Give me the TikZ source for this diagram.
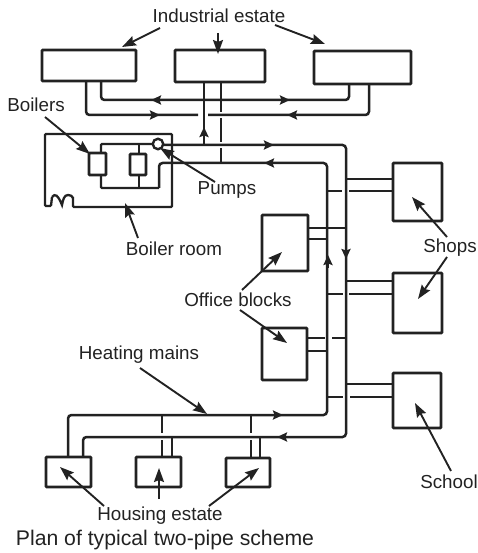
\documentclass[tikz,border=0pt]{standalone}
\usepackage{fontspec}
\setmainfont{Liberation Sans}
\usetikzlibrary{arrows.meta}
\definecolor{ink}{HTML}{222222}
\tikzset{
  box/.style={draw=ink,line width=2.7pt,fill=white,rounded corners=0.8pt,inner sep=0pt,outer sep=0pt,minimum width=#1},
  pipe/.style={draw=ink,line width=2.5pt,rounded corners=3.5pt},
  wall/.style={draw=ink,line width=2.3pt,rounded corners=1pt},
  flow/.style={draw=ink,line width=2.5pt,-{Stealth[length=10pt,width=9pt,inset=1.5pt]}},
  leader/.style={draw=ink,line width=1.9pt,-{Stealth[length=14pt,width=10pt,inset=2pt]}},
  label/.style={text=ink,font=\fontsize{18.8}{22}\selectfont,inner sep=0pt},
}
\newcommand{\boxat}[5]{\node[box=#4-#2,minimum height=#5-#3] (#1) at ({(#2+#4)/2},{(#3+#5)/2}) {};}
\begin{document}
\begin{tikzpicture}[x=1pt,y=-1pt]
\useasboundingbox (0,0) rectangle (477,553);
% pipes first
\draw[pipe] (86,81) -- (86,115) -- (198,115);
\draw[pipe] (208,115) -- (369,115) -- (369,84);
\draw[pipe] (101,81) -- (101,100) -- (349,100) -- (349,84);
\draw[pipe] (204,82) -- (204,145);
\draw[pipe] (221,82) -- (221,112);
\draw[pipe] (221,118) -- (221,142);
\draw[pipe] (221,148) -- (221,163);
\draw[pipe] (164,145) -- (346,145) -- (346,437) -- (83,437) -- (83,457);
\draw[pipe] (159,188) -- (159,163) -- (327,163) -- (327,415) -- (68,415) -- (68,457);
% boiler room
\draw[wall] (73,197) -- (73,207) -- (172,207) -- (172,134) -- (45,134) -- (45,206) -- (51,206) -- (52,197);
\draw[wall,rounded corners=0pt] (52,197) .. controls (55,193) and (58,195) .. (62,205) .. controls (63,200) and (64,195) .. (68,195) .. controls (71,195) and (72,196) .. (73,198);
\draw[wall] (152,144) -- (101,144) -- (101,188) -- (159,188);
\draw[wall] (139,144) -- (139,188);
\boxat{b1}{89}{153}{106}{175}
\boxat{b2}{130}{154}{146}{175}
\node[draw=ink,line width=2.4pt,fill=white,circle,minimum size=10.5pt,inner sep=0pt] (pump) at (158,144) {};
% branches
\draw[pipe] (346,179) -- (393,179);
\draw[pipe] (327,191) -- (342,191);
\draw[pipe] (349,191) -- (393,191);
\draw[pipe] (346,281) -- (393,281);
\draw[pipe] (328,294) -- (343,294);
\draw[pipe] (349,294) -- (393,294);
\draw[pipe] (346,384) -- (393,384);
\draw[pipe] (328,397) -- (343,397);
\draw[pipe] (350,397) -- (393,397);
\draw[pipe] (308,228) -- (346,228);
\draw[pipe] (308,239) -- (327,239);
\draw[pipe] (307,338) -- (325,338);
\draw[pipe] (332,338) -- (346,338);
\draw[pipe] (307,351) -- (327,351);
\draw[pipe] (162,415) -- (162,433);
\draw[pipe] (162,440) -- (162,457);
\draw[pipe] (172,437) -- (172,457);
\draw[pipe] (251,415) -- (251,433);
\draw[pipe] (251,440) -- (251,458);
\draw[pipe] (260,437) -- (260,458);
% boxes
\boxat{i1}{42}{50}{136}{81}
\boxat{i2}{175}{50}{265}{82}
\boxat{i3}{314}{51}{411}{84}
\boxat{s1}{393}{163}{442}{221}
\boxat{s2}{393}{273}{442}{333}
\boxat{sc}{393}{373}{441}{428}
\boxat{o1}{262}{215}{308}{271}
\boxat{o2}{262}{328}{307}{380}
\boxat{h1}{46}{457}{91}{487}
\boxat{h2}{136}{457}{181}{487}
\boxat{h3}{226}{458}{270}{487}
% flow arrows
\draw[flow] (162,100) -- (151,100);
\draw[flow] (148,115) -- (160,115);
\draw[flow] (278,100) -- (290,100);
\draw[flow] (299,115) -- (287,115);
\draw[flow] (204,140) -- (204,127);
\draw[flow] (260,145) -- (274,145);
\draw[flow] (277,163) -- (264,163);
\draw[flow] (346,245) -- (346,259);
\draw[flow] (328,268) -- (328,255);
\draw[flow] (270,415) -- (283,415);
\draw[flow] (290,437) -- (277,437);
% labels
\node[label] (lind) at (219,16) {Industrial estate};
\node[label] (lboil) at (36,105) {Boilers};
\node[label] (lpump) at (227,190) {Pumps};
\node[label] (lroom) at (174,249) {Boiler room};
\node[label] (lshop) at (450,248) {Shops};
\node[label] (loff) at (238,300) {Office blocks};
\node[label] (lschool) at (449,482) {School};
\node[label] (lheat) at (139,355) {Heating mains};
\node[label] (lhouse) at (160,516) {Housing estate};
\node[label,font=\fontsize{21.2}{24}\selectfont] (lcap) at (165,540) {Plan of typical two-pipe scheme};
% leaders
\coordinate (a1) at (160,28); \coordinate (t1) at (122,47);
\coordinate (a2) at (218,33); \coordinate (t2) at (218,54);
\coordinate (a3) at (275,25); \coordinate (t3) at (325,44);
\coordinate (a4) at (45,117); \coordinate (t4) at (90,154);
\coordinate (a5) at (215,182); \coordinate (t5) at (160,148);
\coordinate (a6) at (138,238); \coordinate (t6) at (125,203);
\coordinate (a7) at (447,237); \coordinate (t7) at (412,197);
\coordinate (a8) at (447,257); \coordinate (t8) at (418,299);
\coordinate (a9) at (242,290); \coordinate (t9) at (282,252);
\coordinate (a10) at (240,310); \coordinate (t10) at (287,343);
\coordinate (a11) at (451,471); \coordinate (t11) at (415,403);
\coordinate (a12) at (140,368); \coordinate (t12) at (207,414);
\coordinate (a13) at (104,506); \coordinate (t13) at (60,467);
\coordinate (a14) at (159,499); \coordinate (t14) at (159,468);
\coordinate (a15) at (209,506); \coordinate (t15) at (259,468);
\foreach \n in {1,...,15} {\draw[leader] (a\n) -- (t\n);}
\end{tikzpicture}
\end{document}
